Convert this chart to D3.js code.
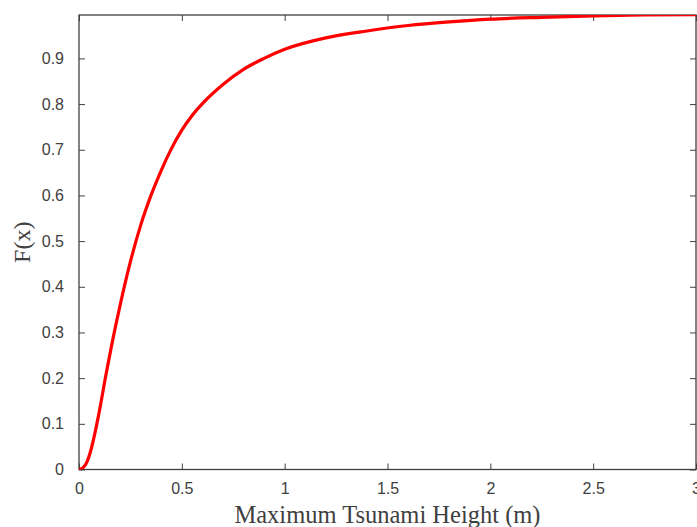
<!DOCTYPE html>
<html>
<head>
<meta charset="utf-8">
<script src="https://cdn.jsdelivr.net/npm/d3@7"></script>
<style>
  html, body { margin: 0; padding: 0; background: #fff; }
  svg { display: block; }
</style>
</head>
<body>
<svg id="chart" width="697" height="527"></svg>
<script>
// ---- data ----
const heightX = [0, 0.02, 0.04, 0.06, 0.08, 0.1, 0.13, 0.16, 0.2, 0.25, 0.3, 0.35, 0.4, 0.45, 0.5, 0.55, 0.6, 0.7, 0.8, 0.9, 1.0, 1.2, 1.4, 1.6, 1.8, 2.0, 2.25, 2.5, 2.75, 3.0];
const cdfY    = [0, 0.004, 0.018, 0.046, 0.085, 0.13, 0.205, 0.275, 0.36, 0.455, 0.535, 0.60, 0.655, 0.703, 0.743, 0.775, 0.801, 0.843, 0.876, 0.90, 0.92, 0.945, 0.96, 0.972, 0.98, 0.986, 0.99, 0.993, 0.995, 0.996];
const xTicks = [0, 0.5, 1, 1.5, 2, 2.5, 3];
const yTicks = [0, 0.1, 0.2, 0.3, 0.4, 0.5, 0.6, 0.7, 0.8, 0.9];
const xLabel = "Maximum Tsunami Height (m)";
const yLabel = "F(x)";

(function () {
const svg = d3.select("#chart");
const mLeft = 79, mRight = 696, mTop = 15, mBottom = 469.5;
const axisColor = "#404040";

const x = d3.scaleLinear().domain([0, 3]).range([mLeft, mRight]);
const y = d3.scaleLinear().domain([0, 0.995]).range([mBottom, mTop]);

svg.append("defs").append("clipPath").attr("id", "clip")
  .append("rect").attr("x", mLeft).attr("y", mTop).attr("width", mRight - mLeft).attr("height", mBottom - mTop);

const tickLen = 6;
const fmt = d => d === 0 ? "0" : String(d);

const xAxis = d3.axisBottom(x).tickValues(xTicks).tickFormat(fmt).tickSizeInner(-tickLen).tickSizeOuter(0).tickPadding(13);
const gx = svg.append("g").attr("transform", `translate(0,${mBottom})`).call(xAxis);
const gxt = svg.append("g").attr("transform", `translate(0,${mTop})`)
  .call(d3.axisTop(x).tickValues(xTicks).tickFormat("").tickSizeInner(-tickLen).tickSizeOuter(0));
const yAxis = d3.axisLeft(y).tickValues(yTicks).tickFormat(fmt).tickSizeInner(-tickLen).tickSizeOuter(0).tickPadding(15);
const gy = svg.append("g").attr("transform", `translate(${mLeft},0)`).call(yAxis);
const gyr = svg.append("g").attr("transform", `translate(${mRight},0)`)
  .call(d3.axisRight(y).tickValues(yTicks).tickFormat("").tickSizeInner(-tickLen).tickSizeOuter(0));

[gx, gxt, gy, gyr].forEach(g => {
  g.select(".domain").remove();
  g.selectAll("line").attr("stroke", axisColor).attr("stroke-width", 1);
  g.selectAll("text").attr("fill", axisColor)
    .style("font-family", "Liberation Sans, Arial, sans-serif").style("font-size", "16px");
});

svg.append("rect").attr("x", mLeft).attr("y", mTop)
  .attr("width", mRight - mLeft).attr("height", mBottom - mTop)
  .attr("fill", "none").attr("stroke", axisColor).attr("stroke-width", 1.3);

const pts = heightX.map((d, i) => [d, cdfY[i]]);
svg.append("path").datum(pts)
  .attr("clip-path", "url(#clip)")
  .attr("fill", "none").attr("stroke", "#ff0000").attr("stroke-width", 3.2)
  .attr("stroke-linejoin", "round").attr("stroke-linecap", "round")
  .attr("d", d3.line().x(d => x(d[0])).y(d => y(d[1])).curve(d3.curveMonotoneX));

svg.append("text").attr("x", (mLeft + mRight) / 2).attr("y", 523)
  .attr("text-anchor", "middle").attr("fill", axisColor)
  .style("font-family", "Liberation Serif, Times New Roman, serif").style("font-size", "24.5px")
  .text(xLabel);
svg.append("text").attr("transform", `translate(30,${(mTop + mBottom) / 2}) rotate(-90)`)
  .attr("text-anchor", "middle").attr("fill", axisColor)
  .style("font-family", "Liberation Serif, Times New Roman, serif").style("font-size", "24px")
  .text(yLabel);
})();
</script>
</body>
</html>
